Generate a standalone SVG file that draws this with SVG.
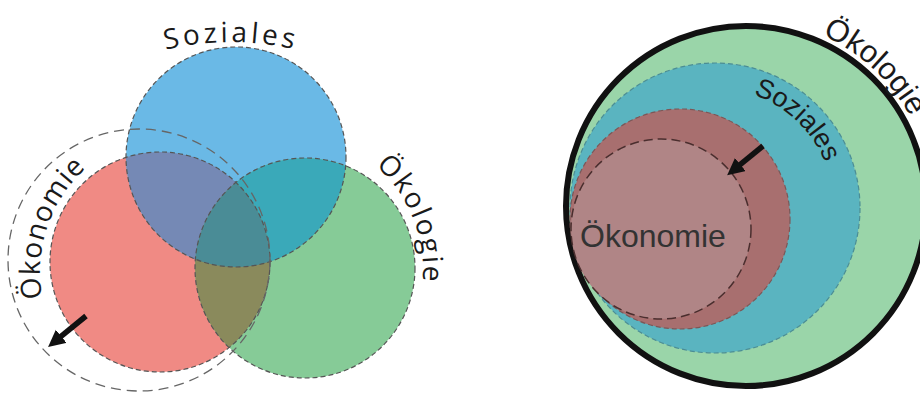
<svg xmlns="http://www.w3.org/2000/svg" width="920" height="394" viewBox="0 0 920 394">
<defs>
<style>
.lbl{font-family:"Open Sans","DejaVu Sans",sans-serif;font-size:28px;fill:#1a1a1a}
.lbl2{font-family:"Liberation Sans",Arial,sans-serif;fill:#1a1a1a}
.edge{fill:none;stroke:#555;stroke-width:1.2;stroke-dasharray:5 3}
.arrow{stroke:#111;stroke-width:5.5;fill:none;marker-end:url(#ah)}
</style>
<marker id="ah" markerUnits="userSpaceOnUse" markerWidth="20" markerHeight="20" refX="7" refY="8.5" orient="auto">
<path d="M0,0 L17,8.5 L0,17 z" fill="#111"/>
</marker>
<clipPath id="cR"><circle cx="160" cy="262" r="110"/></clipPath>
<clipPath id="cB"><circle cx="236" cy="157" r="110"/></clipPath>
<path id="pSozL" d="M135.9,58.8 A278,278 0 0 1 326.1,58.8"/>
<path id="pOekonL" d="M58.8,342 A140,140 0 0 1 132.1,140.4"/>
<path id="pOekolL" d="M309,134.1 A138,138 0 0 1 404.5,339"/>
<path id="pOekolR" d="M822.1,35.2 A187,187 0 0 1 889.3,326.2"/>
<path id="pSozR" d="M753.1,94.5 A120,120 0 0 1 834,208"/>
</defs>

<!-- Left diagram -->
<g id="left-oekonomie">
<circle cx="160" cy="262" r="110" fill="#f08a84"/>
</g>
<g id="left-soziales">
<circle cx="236" cy="157" r="110" fill="#6ab9e6"/>
</g>
<g id="left-oekologie">
<circle cx="305" cy="268" r="110" fill="#86cb97"/>
</g>
<g id="left-overlaps">
<circle cx="236" cy="157" r="110" fill="#7589b5" clip-path="url(#cR)"/>
<circle cx="305" cy="268" r="110" fill="#3aa9b9" clip-path="url(#cB)"/>
<circle cx="305" cy="268" r="110" fill="#8a8a5c" clip-path="url(#cR)"/>
<g clip-path="url(#cR)"><circle cx="305" cy="268" r="110" fill="#4a8c96" clip-path="url(#cB)"/></g>
<circle class="edge" cx="160" cy="262" r="110"/>
<circle class="edge" cx="236" cy="157" r="110"/>
<circle class="edge" cx="305" cy="268" r="110"/>
</g>
<g id="left-oekonomie-growth">
<circle cx="139" cy="260" r="131" fill="none" stroke="#666" stroke-width="1.3" stroke-dasharray="10 6"/>
</g>
<g id="left-labels">
<text class="lbl" letter-spacing="3.5"><textPath href="#pSozL" startOffset="50%" text-anchor="middle">Soziales</textPath></text>
<text class="lbl" letter-spacing="1"><textPath href="#pOekonL" startOffset="48.75%" text-anchor="middle">Ökonomie</textPath></text>
<text class="lbl" letter-spacing="2"><textPath href="#pOekolL" startOffset="52.9%" text-anchor="middle">Ökologie</textPath></text>
</g>

<!-- Right diagram -->
<g id="right-oekologie">
<circle cx="746" cy="206" r="180" fill="#9ad5a9" stroke="#111" stroke-width="6"/>
<text class="lbl2" font-size="31"><textPath href="#pOekolR">Ökologie</textPath></text>
</g>
<g id="right-soziales">
<circle cx="715" cy="208" r="145" fill="#5ab4c0" stroke="#4b8d95" stroke-width="1.2" stroke-dasharray="5 3"/>
<text class="lbl2" font-size="27"><textPath href="#pSozR">Soziales</textPath></text>
</g>
<g id="right-oekonomie">
<circle cx="680" cy="219" r="110" fill="#a86f6f" stroke="#7d5656" stroke-width="1.2" stroke-dasharray="5 3"/>
<circle cx="661" cy="229" r="90" fill="#b08586" stroke="#4a2e2e" stroke-width="1.5" stroke-dasharray="9 5"/>
<text class="lbl2" x="580" y="247" font-size="32" style="fill:#333">Ökonomie</text>
</g>

<g id="connectors">
<line class="arrow" x1="86" y1="316" x2="55.8" y2="340.7"/>
<line class="arrow" x1="763" y1="146" x2="734.9" y2="168.9"/>
</g>
</svg>
